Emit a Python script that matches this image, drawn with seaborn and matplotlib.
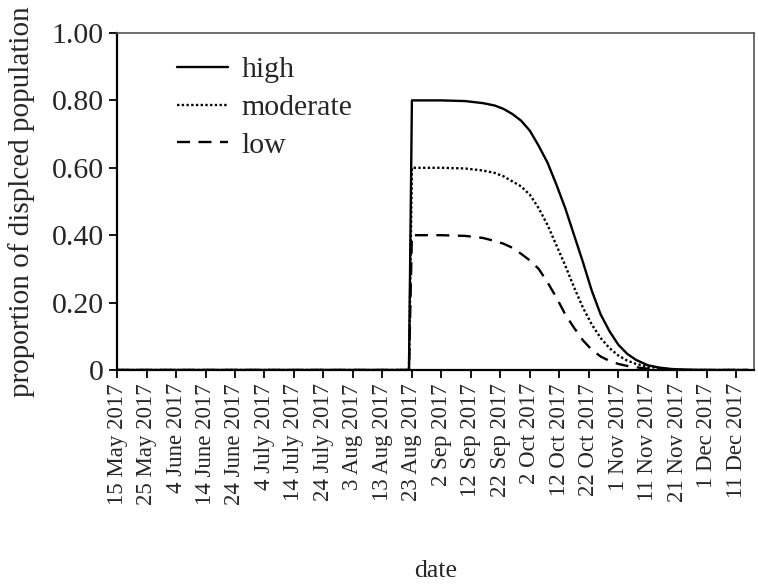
import matplotlib
matplotlib.use("Agg")
import matplotlib.pyplot as plt
import seaborn as sns
import pandas as pd

# days after 15 May 2017
start = pd.Timestamp("2017-05-15")
day_offsets = [0, 99, 100, 110, 118, 124, 128, 131, 134, 137, 140, 143, 146, 149,
               152, 155, 158, 161, 164, 167, 170, 173, 176, 180, 184, 188, 193, 200, 214]
high = [0, 0, 0.80, 0.80, 0.798, 0.792, 0.785, 0.775, 0.76, 0.74, 0.71, 0.665, 0.615, 0.55,
        0.48, 0.40, 0.32, 0.235, 0.165, 0.115, 0.075, 0.048, 0.03, 0.014, 0.007, 0.003, 0.001, 0, 0]
moderate = [0, 0, 0.60, 0.60, 0.598, 0.592, 0.585, 0.575, 0.56, 0.545, 0.52, 0.48, 0.43, 0.37,
            0.31, 0.245, 0.185, 0.135, 0.095, 0.065, 0.043, 0.028, 0.018, 0.01, 0.005, 0.002, 0, 0, 0]
low = [0, 0, 0.40, 0.40, 0.398, 0.392, 0.383, 0.375, 0.363, 0.345, 0.325, 0.30, 0.26, 0.215,
       0.165, 0.125, 0.088, 0.06, 0.04, 0.027, 0.018, 0.012, 0.008, 0.004, 0.002, 0, 0, 0, 0]

tick_labels = ["15 May 2017", "25 May 2017", "4 June 2017", "14 June 2017", "24 June 2017",
               "4 July 2017", "14 July 2017", "24 July 2017", "3 Aug 2017", "13 Aug 2017",
               "23 Aug 2017", "2 Sep 2017", "12 Sep 2017", "22 Sep 2017", "2 Oct 2017",
               "12 Oct 2017", "22 Oct 2017", "1 Nov 2017", "11 Nov 2017", "21 Nov 2017",
               "1 Dec 2017", "11 Dec 2017"]
y_ticks = [0, 0.2, 0.4, 0.6, 0.8, 1.0]
y_tick_labels = ["0", "0.20", "0.40", "0.60", "0.80", "1.00"]

dates = start + pd.to_timedelta(day_offsets, unit="D")
rows = []
for name, vals in [("high", high), ("moderate", moderate), ("low", low)]:
    for d, v in zip(dates, vals):
        rows.append({"date": d, "proportion": v, "scenario": name})
df = pd.DataFrame(rows)

sns.set_style("ticks")
plt.rcParams["font.family"] = ["Liberation Serif", "DejaVu Serif"]

fig = plt.figure(figsize=(7.58, 5.86), dpi=100)
ax = fig.add_axes([0.1544, 0.3686, 0.8403, 0.5751])

sns.lineplot(data=df, x="date", y="proportion", style="scenario", color="black",
             dashes={"high": "", "moderate": (1, 1), "low": (5.5, 3.6)},
             linewidth=1.7, ax=ax)

tick_dates = [start + pd.Timedelta(days=10 * i) for i in range(len(tick_labels))]
ax.set_xticks(tick_dates)
ax.set_xticklabels(tick_labels, rotation=90, fontsize=16.5)
ax.set_xlim(start, start + pd.Timedelta(days=216))
ax.set_yticks(y_ticks)
ax.set_yticklabels(y_tick_labels, fontsize=21.5)
ax.set_ylim(0, 1.0)

ax.set_xlabel("date", fontsize=18.5, labelpad=40)
ax.set_ylabel("proportion of displced population", fontsize=21, labelpad=12)

ax.tick_params(axis="both", direction="out", length=6, width=1.3, color="black")
for side in ["left", "bottom"]:
    ax.spines[side].set_linewidth(1.6)
    ax.spines[side].set_color("black")
for side in ["top", "right"]:
    ax.spines[side].set_visible(True)
    ax.spines[side].set_linewidth(1.2)
    ax.spines[side].set_color("#555555")

sns.move_legend(ax, "upper left", bbox_to_anchor=(0.052, 1.01), frameon=False, title=None,
                fontsize=21.5, handlelength=1.7, handletextpad=0.45, labelspacing=0.36)

fig.savefig("out.png", dpi=100)
